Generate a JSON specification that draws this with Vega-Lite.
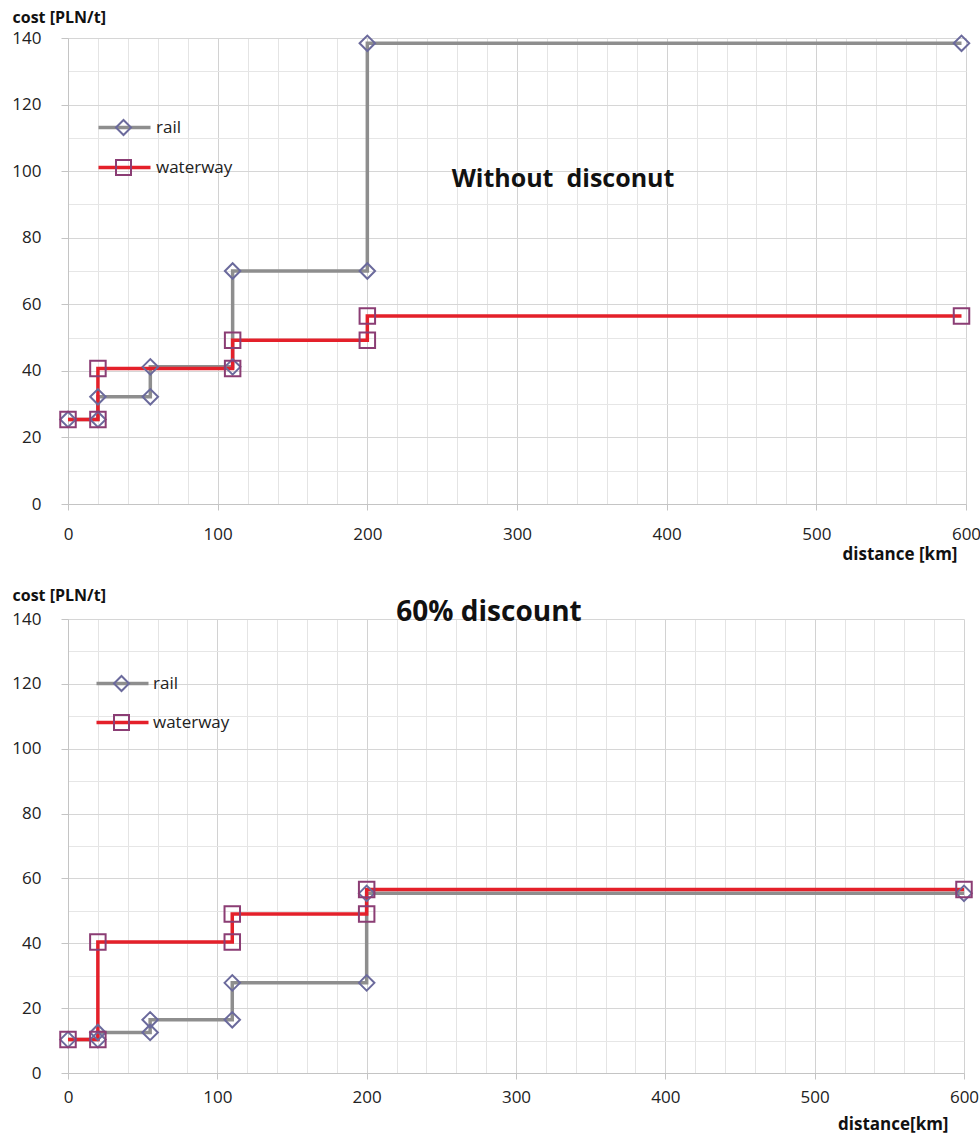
{
  "$schema": "https://vega.github.io/schema/vega-lite/v6.json",
  "background": "#ffffff",
  "padding": {"left": 11, "top": 9, "right": 10, "bottom": 5},
  "config": {
    "font": "Open Sans",
    "view": {"stroke": null},
    "axis": {
      "labelFont": "Open Sans",
      "labelFontSize": 17,
      "labelColor": "#222222",
      "labelOverlap": false,
      "labelFlush": false,
      "titleFont": "Open Sans",
      "titleFontWeight": "bold",
      "titleColor": "#111111",
      "domainColor": "#c4c4c4",
      "grid": true
    },
    "legend": {
      "labelFont": "Open Sans",
      "labelFontSize": 17,
      "labelColor": "#222222"
    }
  },
  "data": {
    "values": [
      {"panel": "none", "mode": "rail", "step": 1, "distance": 0, "cost": 25.4},
      {"panel": "none", "mode": "rail", "step": 2, "distance": 20, "cost": 25.4},
      {"panel": "none", "mode": "rail", "step": 3, "distance": 20, "cost": 32.2},
      {"panel": "none", "mode": "rail", "step": 4, "distance": 55, "cost": 32.2},
      {"panel": "none", "mode": "rail", "step": 5, "distance": 55, "cost": 41.2},
      {"panel": "none", "mode": "rail", "step": 6, "distance": 110, "cost": 41.2},
      {"panel": "none", "mode": "rail", "step": 7, "distance": 110, "cost": 70},
      {"panel": "none", "mode": "rail", "step": 8, "distance": 200, "cost": 70},
      {"panel": "none", "mode": "rail", "step": 9, "distance": 200, "cost": 138.4},
      {"panel": "none", "mode": "rail", "step": 10, "distance": 597, "cost": 138.4},
      {"panel": "none", "mode": "waterway", "step": 1, "distance": 0, "cost": 25.4},
      {"panel": "none", "mode": "waterway", "step": 2, "distance": 20, "cost": 25.4},
      {"panel": "none", "mode": "waterway", "step": 3, "distance": 20, "cost": 40.7},
      {"panel": "none", "mode": "waterway", "step": 4, "distance": 110, "cost": 40.7},
      {"panel": "none", "mode": "waterway", "step": 5, "distance": 110, "cost": 49.2},
      {"panel": "none", "mode": "waterway", "step": 6, "distance": 200, "cost": 49.2},
      {"panel": "none", "mode": "waterway", "step": 7, "distance": 200, "cost": 56.5},
      {"panel": "none", "mode": "waterway", "step": 8, "distance": 597, "cost": 56.5},
      {"panel": "60%", "mode": "rail", "step": 1, "distance": 0, "cost": 10.3},
      {"panel": "60%", "mode": "rail", "step": 2, "distance": 20, "cost": 10.3},
      {"panel": "60%", "mode": "rail", "step": 3, "distance": 20, "cost": 12.5},
      {"panel": "60%", "mode": "rail", "step": 4, "distance": 55, "cost": 12.5},
      {"panel": "60%", "mode": "rail", "step": 5, "distance": 55, "cost": 16.4},
      {"panel": "60%", "mode": "rail", "step": 6, "distance": 110, "cost": 16.4},
      {"panel": "60%", "mode": "rail", "step": 7, "distance": 110, "cost": 27.8},
      {"panel": "60%", "mode": "rail", "step": 8, "distance": 200, "cost": 27.8},
      {"panel": "60%", "mode": "rail", "step": 9, "distance": 200, "cost": 55.4},
      {"panel": "60%", "mode": "rail", "step": 10, "distance": 600, "cost": 55.4},
      {"panel": "60%", "mode": "waterway", "step": 1, "distance": 0, "cost": 10.3},
      {"panel": "60%", "mode": "waterway", "step": 2, "distance": 20, "cost": 10.3},
      {"panel": "60%", "mode": "waterway", "step": 3, "distance": 20, "cost": 40.4},
      {"panel": "60%", "mode": "waterway", "step": 4, "distance": 110, "cost": 40.4},
      {"panel": "60%", "mode": "waterway", "step": 5, "distance": 110, "cost": 49.0},
      {"panel": "60%", "mode": "waterway", "step": 6, "distance": 200, "cost": 49.0},
      {"panel": "60%", "mode": "waterway", "step": 7, "distance": 200, "cost": 56.6},
      {"panel": "60%", "mode": "waterway", "step": 8, "distance": 600, "cost": 56.6}
    ]
  },
  "spacing": 25,
  "resolve": {
    "scale": {"color": "independent", "shape": "independent", "stroke": "independent"},
    "legend": {"color": "independent", "shape": "independent", "stroke": "independent"}
  },
  "vconcat": [
    {
      "width": 898,
      "height": 466,
      "title": {
        "text": "Without \u00a0disconut",
        "font": "Open Sans",
        "fontSize": 25,
        "fontWeight": "bold",
        "color": "#111111",
        "anchor": "middle",
        "frame": "group",
        "baseline": "alphabetic",
        "offset": 0,
        "dx": 46,
        "dy": 203
      },
      "transform": [{"filter": "datum.panel === 'none'"}],
      "encoding": {
        "x": {
          "field": "distance",
          "type": "quantitative",
          "scale": {"domain": [0, 600], "nice": false},
          "axis": {
            "values": [0, 20, 40, 60, 80, 100, 120, 140, 160, 180, 200, 220, 240, 260, 280, 300, 320, 340, 360, 380, 400, 420, 440, 460, 480, 500, 520, 540, 560, 580, 600],
            "labelExpr": "datum.value % 100 === 0 ? datum.label : ''",
            "labelPadding": 16,
            "tickSize": 6,
            "tickColor": {"condition": {"test": "datum.value % 100 === 0", "value": "#c4c4c4"}, "value": "transparent"},
            "gridColor": {"condition": {"test": "datum.value % 100 === 0", "value": "#d2d2d2"}, "value": "#e4e4e4"},
            "title": "distance [km]",
            "titleFontSize": 17,
            "titleAnchor": "end",
            "titleAlign": "right",
            "titleBaseline": "alphabetic",
            "titleX": 889,
            "titleY": 55
          }
        },
        "y": {
          "field": "cost",
          "type": "quantitative",
          "scale": {"domain": [0, 140], "nice": false},
          "axis": {
            "values": [0, 10, 20, 30, 40, 50, 60, 70, 80, 90, 100, 110, 120, 130, 140],
            "labelExpr": "datum.value % 20 === 0 ? datum.label : ''",
            "labelPadding": 20,
            "tickSize": 7,
            "tickColor": {"condition": {"test": "datum.value % 20 === 0", "value": "#c4c4c4"}, "value": "transparent"},
            "gridColor": {"condition": {"test": "datum.value % 20 === 0", "value": "#d6d6d6"}, "value": "#e6e6e6"},
            "title": "cost [PLN/t]",
            "titleFontSize": 16,
            "titleAngle": 0,
            "titleAlign": "left",
            "titleBaseline": "alphabetic",
            "titleX": -56,
            "titleY": -16
          }
        }
      },
      "layer": [
        {
          "mark": {"type": "line", "strokeWidth": 3.5},
          "encoding": {
            "order": {"field": "step", "type": "quantitative"},
            "color": {
              "field": "mode",
              "type": "nominal",
              "scale": {"domain": ["rail", "waterway"], "range": ["#8e8e8e", "#e4202a"]},
              "legend": {
                "title": null,
                "orient": "none",
                "legendX": 48,
                "legendY": 81,
                "symbolType": "M-4,0H4",
                "symbolSize": 169,
                "symbolStrokeWidth": 3.5,
                "labelOffset": 23,
                "rowPadding": 22
              }
            }
          }
        },
        {
          "mark": {"type": "point", "filled": false, "strokeWidth": 2, "size": 240, "opacity": 1},
          "encoding": {
            "shape": {
              "field": "mode",
              "type": "nominal",
              "scale": {"range": ["diamond", "square"]},
              "legend": {
                "title": null,
                "orient": "none",
                "legendX": 47,
                "legendY": 81,
                "symbolSize": 225,
                "symbolStrokeWidth": 2,
                "labelExpr": "''",
                "rowPadding": 17
              }
            },
            "stroke": {
              "field": "mode",
              "type": "nominal",
              "scale": {"range": ["#6b6a9c", "#8b3d74"]},
              "legend": {
                "title": null,
                "orient": "none",
                "legendX": 47,
                "legendY": 81,
                "symbolSize": 225,
                "symbolStrokeWidth": 2,
                "labelExpr": "''",
                "rowPadding": 17
              }
            }
          }
        }
      ]
    },
    {
      "width": 896,
      "height": 454,
      "title": {
        "text": "60% discount",
        "font": "Open Sans",
        "fontSize": 28,
        "fontWeight": "bold",
        "color": "#111111",
        "anchor": "middle",
        "frame": "group",
        "baseline": "alphabetic",
        "offset": 0,
        "dx": -27,
        "dy": 62
      },
      "transform": [{"filter": "datum.panel === '60%'"}],
      "encoding": {
        "x": {
          "field": "distance",
          "type": "quantitative",
          "scale": {"domain": [0, 600], "nice": false},
          "axis": {
            "values": [0, 20, 40, 60, 80, 100, 120, 140, 160, 180, 200, 220, 240, 260, 280, 300, 320, 340, 360, 380, 400, 420, 440, 460, 480, 500, 520, 540, 560, 580, 600],
            "labelExpr": "datum.value % 100 === 0 ? datum.label : ''",
            "labelPadding": 10,
            "tickSize": 6,
            "tickColor": {"condition": {"test": "datum.value % 100 === 0", "value": "#c4c4c4"}, "value": "transparent"},
            "gridColor": {"condition": {"test": "datum.value % 100 === 0", "value": "#d2d2d2"}, "value": "#e4e4e4"},
            "title": "distance[km]",
            "titleFontSize": 17,
            "titleAnchor": "end",
            "titleAlign": "right",
            "titleBaseline": "alphabetic",
            "titleX": 880,
            "titleY": 56
          }
        },
        "y": {
          "field": "cost",
          "type": "quantitative",
          "scale": {"domain": [0, 140], "nice": false},
          "axis": {
            "values": [0, 10, 20, 30, 40, 50, 60, 70, 80, 90, 100, 110, 120, 130, 140],
            "labelExpr": "datum.value % 20 === 0 ? datum.label : ''",
            "labelPadding": 20,
            "tickSize": 7,
            "tickColor": {"condition": {"test": "datum.value % 20 === 0", "value": "#c4c4c4"}, "value": "transparent"},
            "gridColor": {"condition": {"test": "datum.value % 20 === 0", "value": "#d6d6d6"}, "value": "#e6e6e6"},
            "title": "cost [PLN/t]",
            "titleFontSize": 16,
            "titleAngle": 0,
            "titleAlign": "left",
            "titleBaseline": "alphabetic",
            "titleX": -56,
            "titleY": -19
          }
        }
      },
      "layer": [
        {
          "mark": {"type": "line", "strokeWidth": 3.5},
          "encoding": {
            "order": {"field": "step", "type": "quantitative"},
            "color": {
              "field": "mode",
              "type": "nominal",
              "scale": {"domain": ["rail", "waterway"], "range": ["#8e8e8e", "#e4202a"]},
              "legend": {
                "title": null,
                "orient": "none",
                "legendX": 46,
                "legendY": 56,
                "symbolType": "M-4,0H4",
                "symbolSize": 169,
                "symbolStrokeWidth": 3.5,
                "labelOffset": 22,
                "rowPadding": 21
              }
            }
          }
        },
        {
          "mark": {"type": "point", "filled": false, "strokeWidth": 2, "size": 240, "opacity": 1},
          "encoding": {
            "shape": {
              "field": "mode",
              "type": "nominal",
              "scale": {"range": ["diamond", "square"]},
              "legend": {
                "title": null,
                "orient": "none",
                "legendX": 45,
                "legendY": 56,
                "symbolSize": 225,
                "symbolStrokeWidth": 2,
                "labelExpr": "''",
                "rowPadding": 16
              }
            },
            "stroke": {
              "field": "mode",
              "type": "nominal",
              "scale": {"range": ["#6b6a9c", "#8b3d74"]},
              "legend": {
                "title": null,
                "orient": "none",
                "legendX": 45,
                "legendY": 56,
                "symbolSize": 225,
                "symbolStrokeWidth": 2,
                "labelExpr": "''",
                "rowPadding": 16
              }
            }
          }
        }
      ]
    }
  ]
}
